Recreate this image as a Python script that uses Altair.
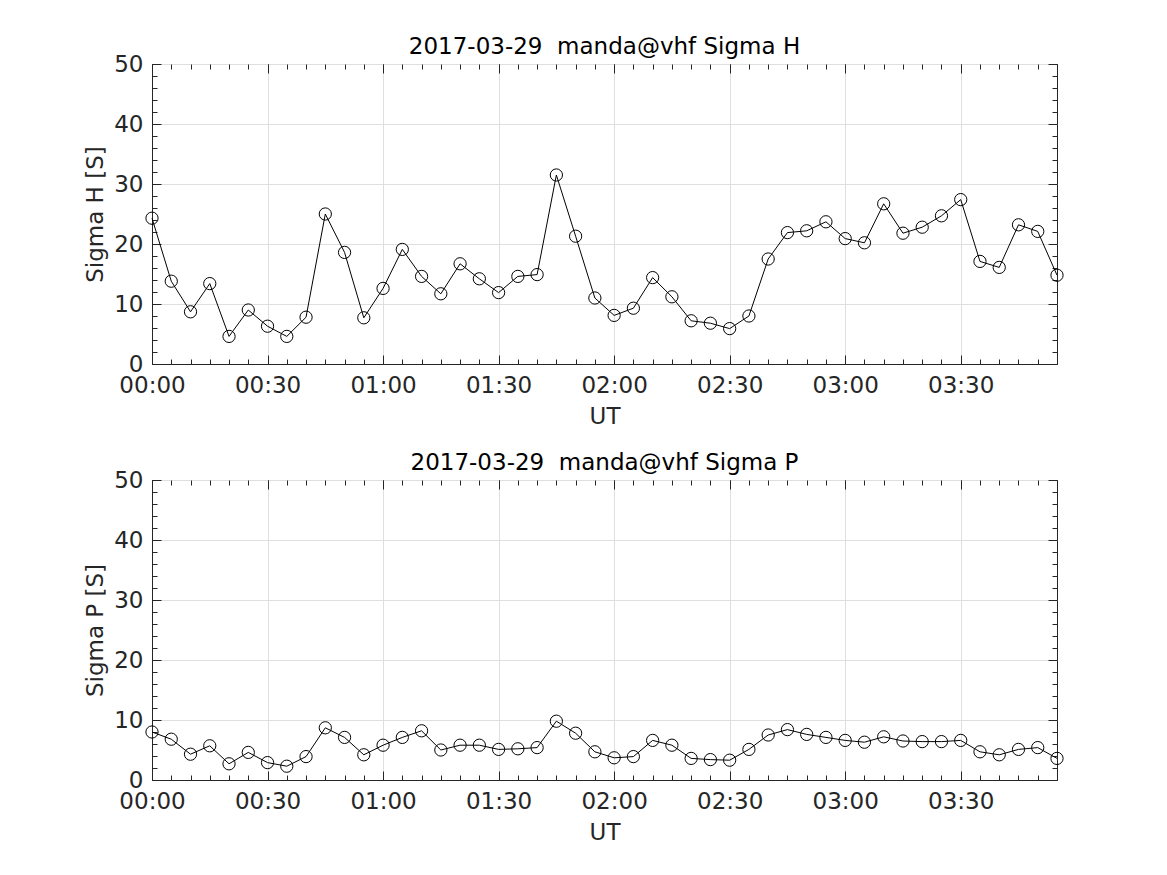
import altair as alt
import pandas as pd

times = ["00:00", "00:05", "00:10", "00:15", "00:20", "00:25", "00:30", "00:35",
         "00:40", "00:45", "00:50", "00:55", "01:00", "01:05", "01:10", "01:15",
         "01:20", "01:25", "01:30", "01:35", "01:40", "01:45", "01:50", "01:55",
         "02:00", "02:05", "02:10", "02:15", "02:20", "02:25", "02:30", "02:35",
         "02:40", "02:45", "02:50", "02:55", "03:00", "03:05", "03:10", "03:15",
         "03:20", "03:25", "03:30", "03:35", "03:40", "03:45", "03:50", "03:55"]

sigma_h = [24.3, 13.8, 8.7, 13.4, 4.6, 9.0, 6.3, 4.6, 7.8, 25.0,
           18.6, 7.7, 12.6, 19.1, 14.6, 11.7, 16.7, 14.2, 11.9, 14.6,
           14.9, 31.5, 21.3, 11.0, 8.1, 9.3, 14.4, 11.2, 7.2, 6.8,
           5.9, 8.0, 17.5, 21.9, 22.2, 23.7, 20.9, 20.2, 26.7, 21.8,
           22.8, 24.7, 27.4, 17.1, 16.1, 23.2, 22.1, 14.8]

sigma_p = [8.0, 6.8, 4.3, 5.7, 2.7, 4.6, 2.9, 2.3, 3.9, 8.7,
           7.1, 4.2, 5.8, 7.1, 8.2, 5.0, 5.8, 5.8, 5.1, 5.2,
           5.4, 9.8, 7.8, 4.7, 3.7, 3.9, 6.6, 5.8, 3.6, 3.4,
           3.3, 5.1, 7.5, 8.4, 7.6, 7.1, 6.6, 6.3, 7.2, 6.5,
           6.4, 6.4, 6.6, 4.7, 4.2, 5.1, 5.4, 3.6]

x_major = [0, 30, 60, 90, 120, 150, 180, 210]
x_minor = list(range(0, 240, 5))
y_major = [0, 10, 20, 30, 40, 50]
y_minor = list(range(0, 52, 2))

minutes = [int(t[:2]) * 60 + int(t[3:]) for t in times]

FONT = "DejaVu Sans"
DARK = "#262626"
FS = 23
W, H = 905, 300


def panel(values, name):
    df = pd.DataFrame({"minutes": minutes, "value": values})
    base = alt.Chart(df)
    xs = alt.Scale(domain=[0, 235], nice=False, zero=False)
    ys = alt.Scale(domain=[0, 50], nice=False)

    line = base.mark_line(color="black", strokeWidth=1).encode(
        x=alt.X("minutes:Q", scale=xs, axis=alt.Axis(
            orient="bottom", values=x_major, grid=True, tickSize=0,
            labelExpr="utcFormat(datum.value * 60000, '%H:%M')",
            labelFlush=False, labelPadding=10, title="UT", titlePadding=8)),
        y=alt.Y("value:Q", scale=ys, axis=alt.Axis(
            orient="left", values=y_major, grid=True, tickSize=0,
            labelPadding=9, title=name + " [S]", titlePadding=6)),
    )
    points = base.mark_point(shape="circle", size=150, color="black",
                             strokeWidth=1, filled=False, opacity=1).encode(
        x=alt.X("minutes:Q", scale=xs, axis=None),
        y=alt.Y("value:Q", scale=ys, axis=None),
    )

    layers = [line, points]
    for orient, vals, size in [("bottom", x_major, 9), ("bottom", x_minor, 5),
                               ("top", x_major, 9), ("top", x_minor, 5)]:
        layers.append(base.mark_point(opacity=0).encode(
            x=alt.X("minutes:Q", scale=xs, title=None, axis=alt.Axis(
                orient=orient, values=vals, tickSize=size, offset=-size,
                labels=False, domain=False, grid=False, ticks=True,
                minExtent=0, maxExtent=0,
                tickColor=DARK, tickWidth=1)),
            y=alt.Y("value:Q", scale=ys, axis=None),
        ))
    for orient, vals, size in [("left", y_major, 9), ("left", y_minor, 5),
                               ("right", y_major, 9), ("right", y_minor, 5)]:
        layers.append(base.mark_point(opacity=0).encode(
            x=alt.X("minutes:Q", scale=xs, axis=None),
            y=alt.Y("value:Q", scale=ys, title=None, axis=alt.Axis(
                orient=orient, values=vals, tickSize=size, offset=-size,
                labels=False, domain=False, grid=False, ticks=True,
                minExtent=0, maxExtent=0,
                tickColor=DARK, tickWidth=1)),
        ))

    return alt.layer(*layers).resolve_axis(
        x="independent", y="independent"
    ).properties(
        width=W, height=H,
        title=alt.TitleParams("2017-03-29 \u00a0manda@vhf " + name, fontSize=FS,
                              fontWeight="normal", font=FONT, color="black",
                              offset=-6, anchor="middle"),
    )


chart = alt.vconcat(panel(sigma_h, "Sigma H"), panel(sigma_p, "Sigma P"),
                    spacing=22).properties(
    padding={"left": 76, "top": 27, "right": 5, "bottom": 5},
    background="white",
).configure_view(
    stroke=DARK, strokeWidth=1
).configure_axis(
    labelFont=FONT, labelFontSize=FS, labelColor=DARK,
    titleFont=FONT, titleFontSize=FS, titleFontWeight="normal", titleColor=DARK,
    gridColor="#dfdfdf", gridWidth=1, domainColor=DARK, domainWidth=1,
)

chart.save("out.html", embed_options={"renderer": "svg", "actions": False})
